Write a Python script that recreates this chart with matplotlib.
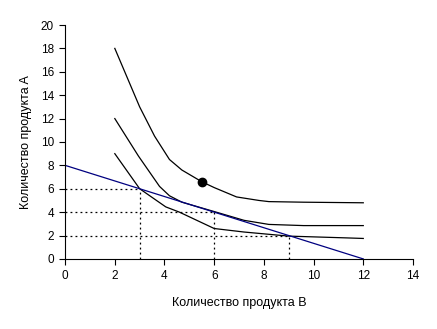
"""Indifference curves and a budget line for two goods."""

import matplotlib.pyplot as plt

plt.rcParams['font.family'] = ['Liberation Sans', 'DejaVu Sans']

# indifference curves: quantity of B (x) vs quantity of A (y)
high_x = [2, 3, 3.6, 4.2, 4.7, 5.5, 6, 6.9, 7.8, 8.2, 9.6, 12]
high_y = [18, 13, 10.5, 8.5, 7.6, 6.6, 6.1, 5.3, 5.0, 4.9, 4.85, 4.8]

mid_x = [2, 2.95, 3.8, 4.2, 4.7, 6, 7.2, 8.2, 9.6, 12]
mid_y = [12, 8.8, 6.2, 5.4, 4.85, 4.05, 3.3, 2.95, 2.85, 2.85]

low_x = [2, 3, 4.05, 4.6, 6, 7.2, 9, 11.3, 12]
low_y = [9, 6, 4.45, 4.0, 2.6, 2.3, 1.95, 1.8, 1.75]

# budget line
budget_x = [0, 12]
budget_y = [8, 0]

# points on the budget line marked with guide lines
guide_x = [3, 6, 9]
guide_y = [6, 4, 2]

# bundle above the budget line
dot_x, dot_y = 5.5, 6.6

fig = plt.figure(figsize=(4.37, 3.29), dpi=100)
ax = fig.add_axes([0.149, 0.213, 0.796, 0.711])

for gx, gy in zip(guide_x, guide_y):
    ax.plot([0, gx], [gy, gy], color='black', linestyle=(0, (1.5, 2.5)), linewidth=0.9)
    ax.plot([gx, gx], [0, gy], color='black', linestyle=(0, (1.5, 2.5)), linewidth=0.9)

for xs, ys in [(high_x, high_y), (mid_x, mid_y), (low_x, low_y)]:
    ax.plot(xs, ys, color='black', linewidth=0.9)

ax.plot(budget_x, budget_y, color='#000080', linewidth=0.9)
ax.plot(dot_x, dot_y, 'o', color='black', markersize=6)

ax.set_xlim(0, 14)
ax.set_ylim(0, 20)
ax.set_xticks(range(0, 15, 2))
ax.set_yticks(range(0, 21, 2))
ax.spines['top'].set_visible(False)
ax.spines['right'].set_visible(False)
ax.tick_params(direction='out', length=4, width=0.8, labelsize=8.5, pad=4)
ax.set_xlabel('Количество продукта B', fontsize=9, labelpad=11)
ax.set_ylabel('Количество продукта A', fontsize=9, labelpad=6)

fig.savefig('out.png', dpi=100)
